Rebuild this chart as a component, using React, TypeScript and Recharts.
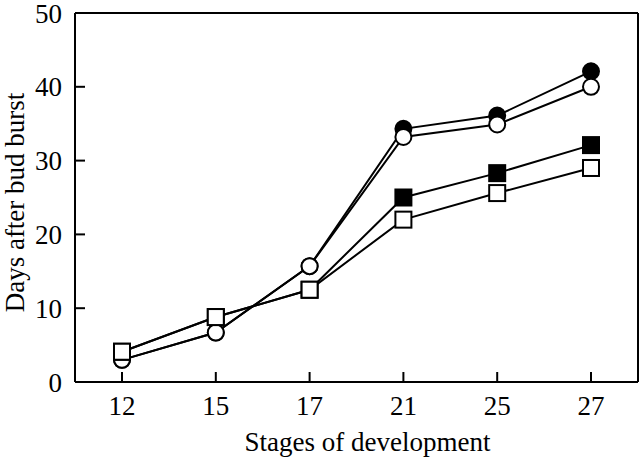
import { Line, LineChart, XAxis, YAxis, Label } from 'recharts';

// stages on the x axis
const stages = ['12', '15', '17', '21', '25', '27'];

// days after bud burst, one array per marker type
const filledCircle = [3, 6.7, 15.7, 34.3, 36.1, 42.1];
const openCircle = [3, 6.7, 15.7, 33.2, 34.9, 40.0];
const filledSquare = [4.1, 8.8, 12.5, 25.0, 28.3, 32.1];
const openSquare = [4.1, 8.8, 12.5, 22.0, 25.6, 29.0];

const yTicks = [0, 10, 20, 30, 40, 50];

const data = stages.map((stage, i) => ({
  stage,
  filledCircle: filledCircle[i],
  openCircle: openCircle[i],
  filledSquare: filledSquare[i],
  openSquare: openSquare[i],
}));

const font = 'Liberation Serif, Times New Roman, serif';

const circleDot = (fill: string) => (props: any) => (
  <circle key={props.index} cx={props.cx} cy={props.cy} r={8} fill={fill} stroke="#000" strokeWidth={2} />
);

const squareDot = (fill: string) => (props: any) => (
  <rect key={props.index} x={props.cx - 8} y={props.cy - 8} width={16} height={16} fill={fill} stroke="#000" strokeWidth={2} />
);

// ticks point into the plot, labels stay outside
const XTick = (props: any) => {
  const { x, y, payload } = props;
  return (
    <g>
      <line x1={x} x2={x} y1={y - 14} y2={y - 24} stroke="#000" strokeWidth={2} />
      <text x={x} y={y} dy="0.71em" textAnchor="middle" fill="#000" fontSize={27} fontFamily={font}>
        {payload.value}
      </text>
    </g>
  );
};

const YTick = (props: any) => {
  const { x, y, payload } = props;
  return (
    <g>
      <line x1={x + 13} x2={x + 23} y1={y} y2={y} stroke="#000" strokeWidth={2} />
      <text x={x} y={y} dy="0.355em" textAnchor="end" fill="#000" fontSize={27} fontFamily={font}>
        {payload.value}
      </text>
    </g>
  );
};

export default function App() {
  return (
    <div style={{ position: 'absolute', left: 0, top: 0, fontFamily: font }}>
      <LineChart width={640} height={458} data={data} margin={{ top: 12, right: 1, left: 0, bottom: 0 }}>
        <XAxis
          dataKey="stage"
          height={76}
          interval={0}
          padding={{ left: 47, right: 47 }}
          tickSize={0}
          tickMargin={14}
          tickLine={false}
          axisLine={{ stroke: '#000', strokeWidth: 2 }}
          tick={<XTick />}
        >
          <Label value="Stages of development" position="insideBottom" offset={7} dx={11} fill="#000" fontSize={27} fontFamily={font} />
        </XAxis>
        <XAxis xAxisId="top" orientation="top" dataKey="stage" height={1} tick={false} tickLine={false} axisLine={{ stroke: '#000', strokeWidth: 2 }} />
        <YAxis
          width={75}
          domain={[0, 50]}
          ticks={yTicks}
          tickSize={0}
          tickMargin={13}
          tickLine={false}
          axisLine={{ stroke: '#000', strokeWidth: 2 }}
          tick={<YTick />}
        >
          <Label value="Days after bud burst" position="center" angle={-90} dx={-23} dy={5} fill="#000" fontSize={27} fontFamily={font} />
        </YAxis>
        <YAxis yAxisId="right" orientation="right" width={1} domain={[0, 50]} tick={false} tickLine={false} axisLine={{ stroke: '#000', strokeWidth: 2 }} />
        <Line dataKey="filledCircle" stroke="#000" strokeWidth={2} dot={circleDot('#000')} isAnimationActive={false} />
        <Line dataKey="openCircle" stroke="#000" strokeWidth={2} dot={circleDot('#fff')} isAnimationActive={false} />
        <Line dataKey="filledSquare" stroke="#000" strokeWidth={2} dot={squareDot('#000')} isAnimationActive={false} />
        <Line dataKey="openSquare" stroke="#000" strokeWidth={2} dot={squareDot('#fff')} isAnimationActive={false} />
      </LineChart>
    </div>
  );
}
